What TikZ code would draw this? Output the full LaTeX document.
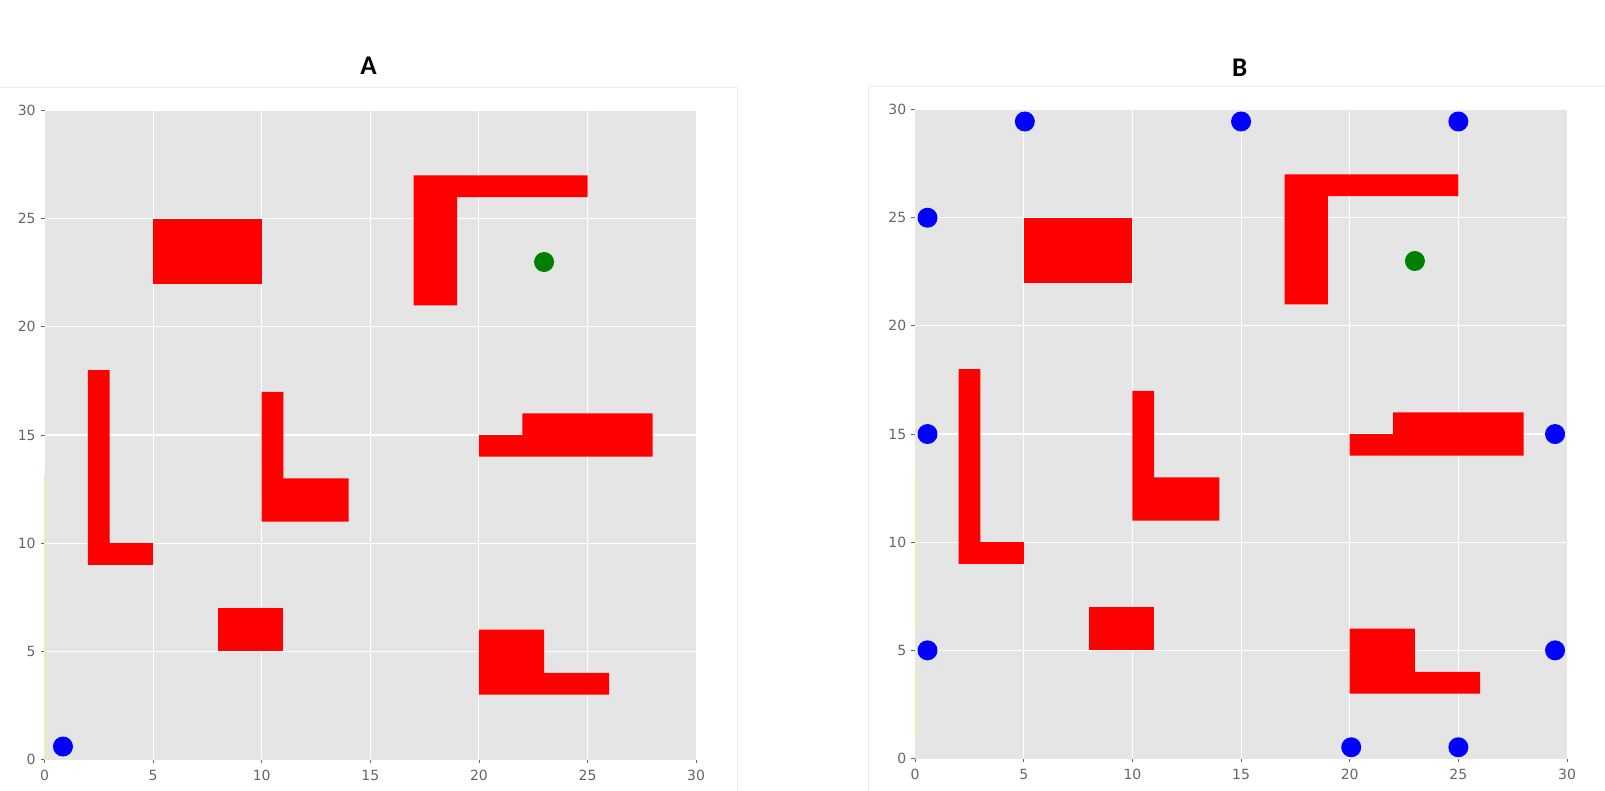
\documentclass[tikz,border=0pt]{standalone}
\usepackage{fontspec}
\setmainfont{DejaVu Sans}
\newfontfamily\titlefont{Carlito}
\definecolor{bggray}{HTML}{E5E5E5}
\definecolor{tickgray}{HTML}{666666}
\definecolor{framegray}{HTML}{EBEBEB}
\definecolor{faintyellow}{HTML}{F2F28C}
\tikzset{
  panelframe/.style={draw=framegray, line width=1pt, fill=white},
  plotbg/.style={fill=bggray, draw=none},
  gridline/.style={draw=white, line width=1.1pt},
  tickmark/.style={draw=tickgray, line width=0.8pt},
  ticklabel/.style={text=tickgray, font=\fontsize{14}{16}\selectfont, inner sep=0pt},
  obstacle/.style={fill=red, draw=none},
  goal/.style={fill=green!50!black, draw=none},
  agent/.style={fill=blue, draw=none},
  trace/.style={draw=faintyellow, line width=0.8pt},
  paneltitle/.style={font=\titlefont\bfseries\fontsize{27}{30}\selectfont, inner sep=0pt}
}
\newcommand{\envplot}{%
  \fill[plotbg] (0,0) rectangle (30,30);
  \foreach \v in {5,10,...,25} {
    \draw[gridline] (\v,0) -- (\v,30);
    \draw[gridline] (0,\v) -- (30,\v);
  }
  \foreach \v in {0,5,...,30} {
    \draw[tickmark] (-0.17,\v) -- (0,\v);
    \draw[tickmark] (\v,0) -- (\v,-0.17);
    \node[ticklabel, anchor=east] (yl\v) at (-0.4,\v) {\v};
    \node[ticklabel, anchor=north] (xl\v) at (\v,-0.5) {\v};
  }
  % obstacles
  \fill[obstacle] (5,22) rectangle (10,25);
  \fill[obstacle] (17,21) -- (17,27) -- (25,27) -- (25,26) -- (19,26) -- (19,21) -- cycle;
  \fill[obstacle] (2,9) -- (2,18) -- (3,18) -- (3,10) -- (5,10) -- (5,9) -- cycle;
  \fill[obstacle] (10,11) -- (10,17) -- (11,17) -- (11,13) -- (14,13) -- (14,11) -- cycle;
  \fill[obstacle] (20,14) -- (20,15) -- (22,15) -- (22,16) -- (28,16) -- (28,14) -- cycle;
  \fill[obstacle] (8,5) rectangle (11,7);
  \fill[obstacle] (20,3) -- (20,6) -- (23,6) -- (23,4) -- (26,4) -- (26,3) -- cycle;
  \fill[goal] (23,23) circle[radius=10pt];
}
\begin{document}
\begin{tikzpicture}[x=1pt,y=1pt]
\useasboundingbox (0,0) rectangle (1605,790);
\fill[white] (0,0) rectangle (1605,790);
% panel frames
\draw[panelframe] (-2,-2) rectangle (737,702);
\draw[panelframe] (868.5,-2) rectangle (1607,703);
% titles
\node[paneltitle] (titleA) at (368.5,724.5) {A};
\node[paneltitle] (titleB) at (1239.6,722.5) {B};
% plot A
\begin{scope}[shift={(44.5pt,30.5pt)}, x=21.72pt, y=21.63pt]
  \envplot
  \draw[trace] (0,0) -- (0,13.2);
  \draw[trace] (0.85,13.2) -- (1.1,13.2);
  \fill[agent] (0.85,0.6) circle[radius=10pt];
\end{scope}
% plot B
\begin{scope}[shift={(915.1pt,31.5pt)}, x=21.73pt, y=21.63pt]
  \envplot
  \draw[trace] (0,0.86) -- (0,4.4);
  \draw[trace] (0,6.0) -- (0,13.26);
  \draw[trace] (0.9,13.26) -- (1.15,13.26);
  \foreach \px/\py [count=\i] in {5.05/29.45, 15/29.45, 25/29.45, 0.57/25, 0.57/15, 0.57/5, 29.45/15, 29.45/5, 20.07/0.52, 25/0.52} {
    \fill[agent] (\px,\py) circle[radius=10pt];
  }
\end{scope}
\end{tikzpicture}
\end{document}
